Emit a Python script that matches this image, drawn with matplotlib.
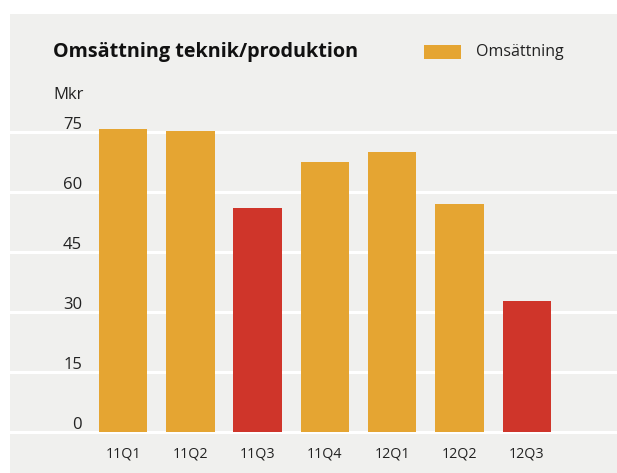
import matplotlib
matplotlib.use("Agg")
import matplotlib.pyplot as plt
from matplotlib.patches import Rectangle

categories = ["11Q1", "11Q2", "11Q3", "11Q4", "12Q1", "12Q2", "12Q3"]
values = [75.8, 75.3, 56.1, 67.4, 69.9, 56.9, 32.8]
highlight = [False, False, True, False, False, False, True]
yticks = [0, 15, 30, 45, 60, 75]
title = "Omsättning teknik/produktion"
legend_label = "Omsättning"
unit = "Mkr"

ORANGE = "#e5a532"
RED = "#cf352a"
BG = "#f0f0ee"
TXT = "#222222"

plt.rcParams['font.family'] = ['Open Sans', 'DejaVu Sans']

W, H = 617, 473
fig = plt.figure(figsize=(W / 100, H / 100), dpi=100)
fig.patch.set_facecolor("white")

# axes = grey panel
left_px, top_px = 10, 14
ax = fig.add_axes([left_px / W, 0, (W - left_px) / W, (H - top_px) / H])
ax.set_facecolor(BG)
for s in ax.spines.values():
    s.set_visible(False)

# pixel geometry -> data limits
x0_px, step_px = 123.0, 67.3
zero_px, unit_px = 432.0, 4.0
ax.set_xlim((left_px - x0_px) / step_px, (W - x0_px) / step_px)
ax.set_ylim((zero_px - H) / unit_px, (zero_px - top_px) / unit_px)

for yt in yticks:
    ax.axhline(yt, color="white", lw=2.2, zorder=1)
    ax.text((82 - x0_px) / step_px, yt + 0.75, str(yt), ha="right", va="baseline",
            fontsize=12, color=TXT)

xs = range(len(categories))
colors = [RED if h else ORANGE for h in highlight]
ax.bar(xs, values, width=0.72, color=colors, zorder=2)

for x, c in zip(xs, categories):
    ax.text(x, (zero_px - 454) / unit_px, c, ha="center", va="center",
            fontsize=10.3, color=TXT)

ax.set_xticks([])
ax.set_yticks([])

def fx(px):
    return px / W

def fy(py):
    return 1 - py / H

fig.text(fx(53), fy(52), title, ha="left", va="center", fontsize=14.2,
         fontweight="bold", color="#111111")
fig.text(fx(53), fy(95), unit, ha="left", va="center", fontsize=12, color=TXT)
fig.patches.append(Rectangle((fx(424), fy(59)), fx(461) - fx(424), fy(45) - fy(59),
                             transform=fig.transFigure, facecolor=ORANGE,
                             edgecolor="none", figure=fig))
fig.text(fx(476), fy(52), legend_label, ha="left", va="center", fontsize=11.5,
         color=TXT)

fig.savefig("out.png", dpi=100, facecolor=fig.get_facecolor())
